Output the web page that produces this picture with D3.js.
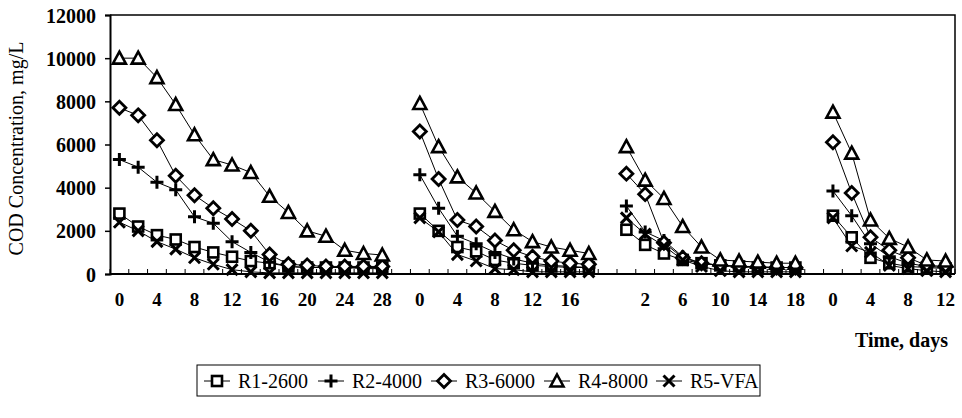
<!DOCTYPE html>
<html>
<head>
<meta charset="utf-8">
<script src="https://cdn.jsdelivr.net/npm/d3@7"></script>
<style>
body { margin: 0; background: #fff; }
text { font-family: "Liberation Serif", "Times New Roman", serif; fill: #000; }
</style>
</head>
<body>
<script>
// category labels: 4 feeding cycles on one axis, blank category between them
var dayLabels = ["0","","4","","8","","12","","16","","20","","24","","28",
  "",
  "0","","4","","8","","12","","16","",
  "",
  "","2","","6","","10","","14","","18",
  "",
  "0","","4","","8","","12"];

var seriesNames = ["R1-2600", "R2-4000", "R3-6000", "R4-8000", "R5-VFA"];
var symbols = ["square", "plus", "diamond", "triangle", "cross"];

var N = null;
var r1 = [2800,2200,1800,1600,1250,1000,800,600,500,350,300,300,300,300,300, N,
  2800,2000,1250,1050,650,500,400,350,300,300, N,
  2050,1350,950,650,500,400,350,300,300,300, N,
  2700,1700,750,500,350,300,250];
var r2 = [5300,4950,4250,3900,2650,2350,1500,1000,550,350,300,300,300,250,250, N,
  4600,3050,1750,1400,1000,700,500,400,350,300, N,
  3150,1950,1550,800,500,400,350,300,300,300, N,
  3850,2700,1400,800,500,350,300];
var r3 = [7700,7350,6200,4550,3650,3050,2550,2000,900,450,400,350,350,350,350, N,
  6600,4400,2500,2200,1550,1100,800,600,500,450, N,
  4650,3700,1450,750,500,400,350,350,300,300, N,
  6100,3750,1700,1100,750,400,350];
var r4 = [10000,10000,9100,7850,6450,5300,5050,4700,3600,2850,2000,1750,1100,950,880, N,
  7900,5900,4500,3750,2900,2050,1500,1250,1100,950, N,
  5900,4350,3500,2200,1250,650,600,550,500,500, N,
  7500,5600,2500,1650,1250,650,600];
var r5 = [2400,2000,1500,1150,750,450,200,100,50,50,50,50,50,50,50, N,
  2600,1950,900,600,250,200,100,100,100,100, N,
  2600,1850,1300,650,350,150,100,100,100,100, N,
  2600,1300,1000,400,250,150,100];
var series = [r1, r2, r3, r4, r5];

var yTicks = [0, 2000, 4000, 6000, 8000, 10000, 12000];

var margin = {top: 15, right: 7, bottom: 144, left: 110};
var width = 962 - margin.left - margin.right;
var height = 418 - margin.top - margin.bottom;

var svg = d3.select("body").append("svg")
  .attr("width", 962)
  .attr("height", 418);

var g = svg.append("g")
  .attr("transform", "translate(" + margin.left + "," + margin.top + ")");

var xScale = d3.scaleBand().domain(d3.range(dayLabels.length)).range([0, width]).padding(0);
var yScale = d3.scaleLinear().domain([0, 12000]).range([height, 0]);

function cx(i) { return xScale(i) + xScale.bandwidth() / 2; }

// frame (top and right)
g.append("path")
  .attr("d", "M0,0H" + width + "V" + height)
  .attr("fill", "none")
  .attr("stroke", "#000")
  .attr("stroke-width", 1.5);

// y axis
var yAxis = d3.axisLeft(yScale).tickValues(yTicks).tickFormat(d3.format("d")).tickSize(5).tickPadding(9);
var yAxisGroup = g.append("g").call(yAxis);
yAxisGroup.select(".domain").attr("stroke-width", 2);
yAxisGroup.selectAll("line").attr("stroke-width", 1.5);
yAxisGroup.selectAll("text")
  .style("font-size", "20px")
  .style("font-weight", "bold")
  .attr("dy", "0.35em");

// x axis: ticks between categories, labels on every other category
var xAxisGroup = g.append("g").attr("transform", "translate(0," + height + ")");
xAxisGroup.append("line")
  .attr("x1", 0).attr("x2", width)
  .attr("stroke", "#000").attr("stroke-width", 2);
xAxisGroup.selectAll(".tk")
  .data(d3.range(dayLabels.length + 1))
  .enter().append("line")
  .attr("x1", function(d){ return d * xScale.step(); })
  .attr("x2", function(d){ return d * xScale.step(); })
  .attr("y1", 0).attr("y2", -5)
  .attr("stroke", "#000").attr("stroke-width", 1);
xAxisGroup.selectAll(".xl")
  .data(dayLabels.map(function(l, i){ return {l: l, i: i}; }).filter(function(d){ return d.l !== ""; }))
  .enter().append("text")
  .attr("x", function(d){ return cx(d.i); })
  .attr("y", 32)
  .attr("text-anchor", "middle")
  .style("font-size", "19px")
  .style("font-weight", "bold")
  .text(function(d){ return d.l; });

// axis titles
svg.append("text")
  .attr("transform", "translate(23," + (margin.top + height / 2 + 4) + ") rotate(-90)")
  .attr("text-anchor", "middle")
  .style("font-size", "20px")
  .text("COD Concentration, mg/L");

svg.append("text")
  .attr("x", 948).attr("y", 347)
  .attr("text-anchor", "end")
  .style("font-size", "20px")
  .style("font-weight", "bold")
  .text("Time, days");

// markers
function marker(sel, type) {
  if (type === "square") {
    sel.append("rect").attr("x", -5).attr("y", -5).attr("width", 10).attr("height", 10)
      .attr("fill", "#fff").attr("stroke", "#000").attr("stroke-width", 2.6);
  } else if (type === "plus") {
    sel.append("path").attr("d", "M-6.5,0H6.5M0,-6.5V6.5")
      .attr("stroke", "#000").attr("stroke-width", 3);
  } else if (type === "diamond") {
    sel.append("path").attr("d", "M0,-6.5L6.5,0L0,6.5L-6.5,0Z")
      .attr("fill", "#fff").attr("stroke", "#000").attr("stroke-width", 2.8);
  } else if (type === "triangle") {
    sel.append("path").attr("d", "M0,-6.5L6.5,5.5H-6.5Z")
      .attr("fill", "#fff").attr("stroke", "#000").attr("stroke-width", 2.6);
  } else {
    sel.append("path").attr("d", "M-5.5,-5.5L5.5,5.5M5.5,-5.5L-5.5,5.5")
      .attr("stroke", "#000").attr("stroke-width", 3);
  }
}

var line = d3.line()
  .defined(function(d){ return d !== null; })
  .x(function(d, i){ return cx(i); })
  .y(function(d){ return yScale(d); });

series.forEach(function(vals, s) {
  g.append("path")
    .attr("d", line(vals))
    .attr("fill", "none")
    .attr("stroke", "#000")
    .attr("stroke-width", 1);
});

series.forEach(function(vals, s) {
  var pts = g.append("g").selectAll("g")
    .data(vals.map(function(v, i){ return {v: v, i: i}; }).filter(function(d){ return d.v !== null; }))
    .enter().append("g")
    .attr("transform", function(d){ return "translate(" + cx(d.i) + "," + yScale(d.v) + ")"; });
  marker(pts, symbols[s]);
});

// legend
var legend = svg.append("g");
legend.append("rect")
  .attr("x", 197).attr("y", 365).attr("width", 563).attr("height", 31)
  .attr("fill", "#fff").attr("stroke", "#000").attr("stroke-width", 1);
var legX = [204, 318, 431, 544, 656];
seriesNames.forEach(function(name, s) {
  var it = legend.append("g").attr("transform", "translate(" + legX[s] + ",381)");
  it.append("line").attr("x1", 0).attr("x2", 26).attr("stroke", "#000").attr("stroke-width", 1);
  marker(it.append("g").attr("transform", "translate(13,0)"), symbols[s]);
  it.append("text").attr("x", 34).attr("y", 6.5)
    .style("font-size", "20px")
    .text(name);
});
</script>
</body>
</html>
